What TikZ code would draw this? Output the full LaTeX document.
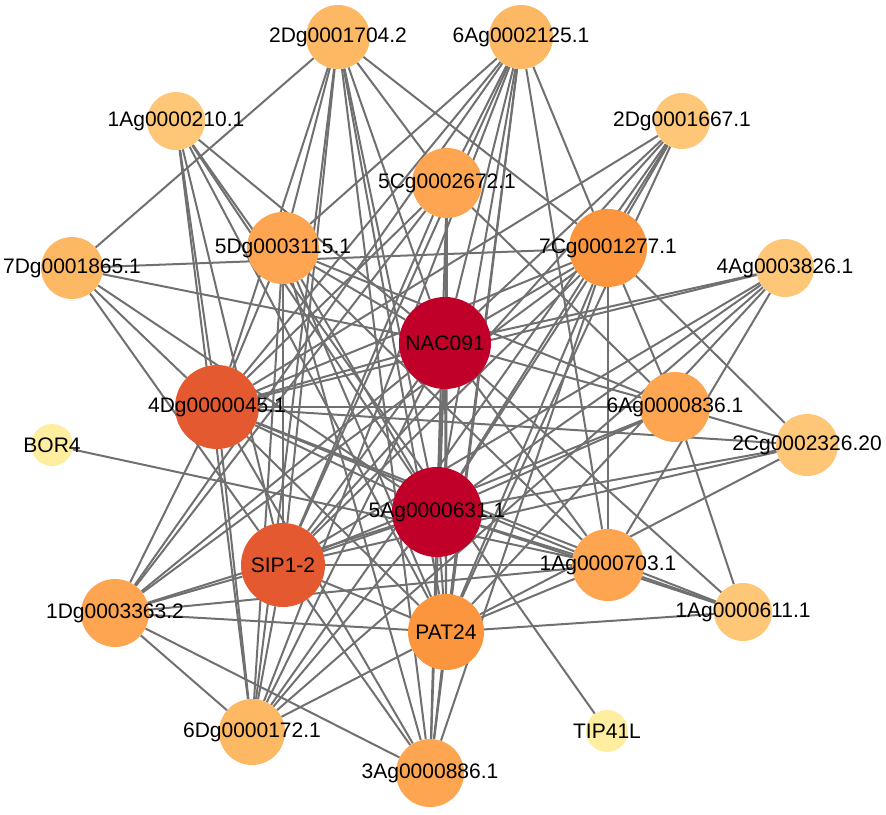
\documentclass[tikz,border=0pt]{standalone}
\usepackage{fontspec}
\setmainfont{Liberation Sans}
\usetikzlibrary{backgrounds}
\definecolor{hubred}{HTML}{C00028}
\definecolor{redorange}{HTML}{E4592F}
\definecolor{deeporange}{HTML}{FB963F}
\definecolor{midorange}{HTML}{FDA550}
\definecolor{lightorange}{HTML}{FDB863}
\definecolor{paleorange}{HTML}{FEC677}
\definecolor{paleyellow}{HTML}{FFEDA0}
\definecolor{edgegray}{HTML}{707070}

\begin{document}
\begin{tikzpicture}[x=1pt,y=-1pt,
    gene/.style={circle,draw=none,minimum size=#1,inner sep=0pt},
    edge/.style={draw=edgegray,line width=2pt},
    every label/.append style={font=\fontsize{21}{25}\selectfont,inner sep=0pt}]
    \useasboundingbox (0,0) rectangle (886,814);
    % Genes, outer ring
    \node[gene=64pt,fill=lightorange,label=center:2Dg0001704.2] (n2Dg1704) at (338,37) {};
    \node[gene=64pt,fill=lightorange,label=center:6Ag0002125.1] (n6Ag2125) at (521,37) {};
    \node[gene=58pt,fill=paleorange,label=center:1Ag0000210.1] (n1Ag210) at (176,121) {};
    \node[gene=56pt,fill=paleorange,label=center:2Dg0001667.1] (n2Dg1667) at (682,121) {};
    \node[gene=62pt,fill=lightorange,label=center:7Dg0001865.1] (n7Dg) at (72,268) {};
    \node[gene=58pt,fill=paleorange,label=center:4Ag0003826.1] (n4Ag) at (785,268) {};
    \node[gene=42pt,fill=paleyellow,label=center:BOR4] (bor) at (52,445) {};
    \node[gene=62pt,fill=paleorange,label=center:2Cg0002326.20] (n2Cg) at (807,445) {};
    \node[gene=68pt,fill=midorange,label=center:1Dg0003363.2] (n1Dg) at (115,613) {};
    \node[gene=58pt,fill=paleorange,label=center:1Ag0000611.1] (n1Ag611) at (743,612) {};
    \node[gene=66pt,fill=lightorange,label=center:6Dg0000172.1] (n6Dg) at (252,732) {};
    \node[gene=42pt,fill=paleyellow,label=center:TIP41L] (tip) at (607,731) {};
    \node[gene=68pt,fill=midorange,label=center:3Ag0000886.1] (n3Ag) at (430,773) {};
    % Genes, inner ring
    \node[gene=70pt,fill=midorange,label=center:5Cg0002672.1] (n5Cg) at (447,183) {};
    \node[gene=72pt,fill=midorange,label=center:5Dg0003115.1] (n5Dg) at (283,248) {};
    \node[gene=78pt,fill=deeporange,label=center:7Cg0001277.1] (n7Cg) at (608,248) {};
    \node[gene=84pt,fill=redorange,label=center:4Dg0000045.1] (n4Dg) at (217,407) {};
    \node[gene=70pt,fill=midorange,label=center:6Ag0000836.1] (n6Ag836) at (675,407) {};
    \node[gene=84pt,fill=redorange,label=center:SIP1-2] (sip) at (283,565) {};
    \node[gene=72pt,fill=midorange,label=center:1Ag0000703.1] (n1Ag703) at (608,565) {};
    \node[gene=76pt,fill=deeporange,label=center:PAT24] (pat) at (446,632) {};
    % Hubs
    \node[gene=92pt,fill=hubred,label=center:NAC091] (nac) at (445,343) {};
    \node[gene=90pt,fill=hubred,label=center:5Ag0000631.1] (n5Ag) at (437,512) {};
    % Edges
    \begin{scope}[on background layer]
    \foreach \a/\b in {n2Dg1704/n7Dg,n2Dg1704/n5Dg,n2Dg1704/n4Dg,n2Dg1704/sip,n2Dg1704/n6Dg,
        n2Dg1704/nac,n2Dg1704/n5Ag,n2Dg1704/pat,n2Dg1704/n3Ag,n2Dg1704/n5Cg,n2Dg1704/n7Cg,
        n6Ag2125/n5Dg,n6Ag2125/n5Cg,n6Ag2125/nac,n6Ag2125/n4Dg,n6Ag2125/sip,n6Ag2125/n5Ag,
        n6Ag2125/pat,n6Ag2125/n3Ag,n6Ag2125/n6Dg,n6Ag2125/n7Cg,n6Ag2125/n1Ag703,n6Ag2125/n1Dg,
        n1Ag210/n4Dg,n1Ag210/n6Dg,n1Ag210/sip,n1Ag210/n5Ag,n1Ag210/tip,n1Ag210/pat,n1Ag210/nac,
        n2Dg1667/n4Dg,n2Dg1667/nac,n2Dg1667/sip,n2Dg1667/n5Ag,n2Dg1667/pat,n2Dg1667/n7Cg,n2Dg1667/n6Dg,
        n4Ag/nac,n4Ag/n4Dg,n4Ag/n5Ag,n4Ag/sip,n4Ag/n6Dg,n4Ag/pat,n4Ag/n1Ag703,
        n2Cg/n7Cg,n2Cg/n6Ag836,n2Cg/n4Dg,n2Cg/n5Ag,n2Cg/sip,n2Cg/pat,
        n1Ag611/n5Ag,n1Ag611/n4Dg,n1Ag611/n1Ag703,n1Ag611/nac,n1Ag611/n6Ag836,n1Ag611/pat,
        bor/n1Ag703,
        n7Dg/n7Cg,n7Dg/n4Dg,n7Dg/n5Ag,n7Dg/nac,n7Dg/sip,
        n6Dg/n1Dg,n6Dg/n4Dg,n6Dg/n5Dg,n6Dg/sip,n6Dg/nac,n6Dg/n5Ag,n6Dg/pat,
        n1Dg/n4Dg,n1Dg/sip,n1Dg/n5Ag,n1Dg/nac,n1Dg/pat,n1Dg/n3Ag,n1Dg/n5Cg,n1Dg/n7Cg,n1Dg/n1Ag703,
        n3Ag/sip,n3Ag/n4Dg,n3Ag/n5Dg,n3Ag/nac,n3Ag/n5Ag,n3Ag/pat,n3Ag/n7Cg,
        nac/n5Ag,nac/n4Dg,nac/sip,nac/n7Cg,nac/n5Cg,nac/n5Dg,nac/n6Ag836,nac/n1Ag703,nac/pat,
        n5Ag/n4Dg,n5Ag/sip,n5Ag/n7Cg,n5Ag/n5Cg,n5Ag/n5Dg,n5Ag/n6Ag836,n5Ag/n1Ag703,n5Ag/pat,
        n4Dg/n7Cg,n4Dg/n5Cg,n4Dg/n6Ag836,n4Dg/n1Ag703,n4Dg/pat,n4Dg/n5Dg,
        sip/n1Ag703,sip/n7Cg,sip/n5Cg,sip/n5Dg,sip/n6Ag836,sip/pat,
        n7Cg/n1Ag703,n7Cg/pat,n7Cg/n6Ag836,n5Cg/pat,n5Cg/n6Ag836,
        n5Dg/pat,n5Dg/n1Ag703,n5Dg/n6Ag836,n1Ag703/pat}
        \draw[edge] (\a) -- (\b);
    \end{scope}
\end{tikzpicture}
\end{document}
